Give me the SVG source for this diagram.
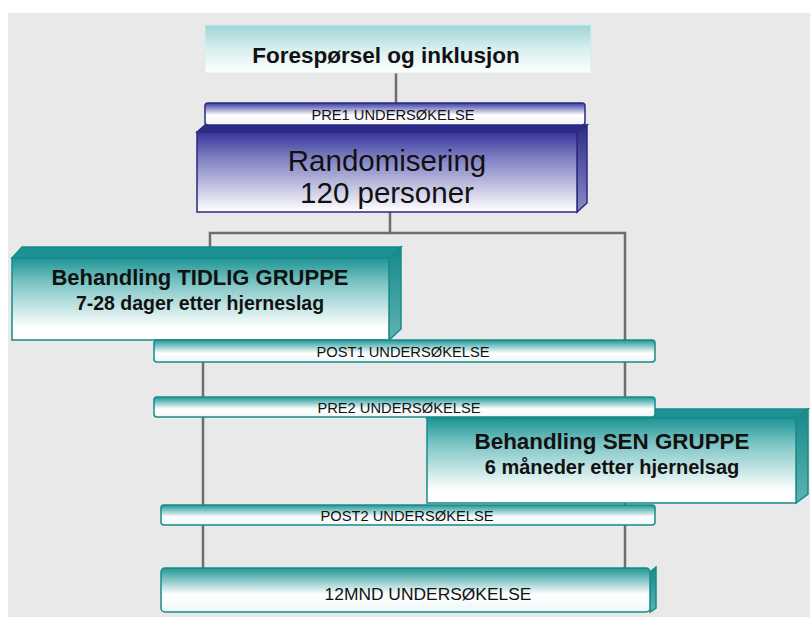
<svg xmlns="http://www.w3.org/2000/svg" width="810" height="617" viewBox="0 0 810 617">
<defs>
<linearGradient id="gCyan" x1="0" y1="0" x2="0" y2="1"><stop offset="0" stop-color="#9fd4d4"/><stop offset="0.5" stop-color="#d8efef"/><stop offset="1" stop-color="#ffffff"/></linearGradient>
<linearGradient id="gPurple" x1="0" y1="0" x2="0" y2="1"><stop offset="0" stop-color="#34349a"/><stop offset="0.3" stop-color="#7a7abf"/><stop offset="1" stop-color="#ffffff"/></linearGradient>
<linearGradient id="gPurpleBar" x1="0" y1="0" x2="0" y2="1"><stop offset="0" stop-color="#3a3aa0"/><stop offset="0.55" stop-color="#ffffff"/><stop offset="1" stop-color="#f2f2fa"/></linearGradient>
<linearGradient id="gPurpleSide" x1="0" y1="0" x2="0" y2="1"><stop offset="0" stop-color="#2c2c88"/><stop offset="1" stop-color="#8a8ac8"/></linearGradient>
<linearGradient id="gTeal" x1="0" y1="0" x2="0" y2="1"><stop offset="0" stop-color="#1d9494"/><stop offset="0.3" stop-color="#7cc4c4"/><stop offset="0.85" stop-color="#ffffff"/></linearGradient>
<linearGradient id="gTealBar" x1="0" y1="0" x2="0" y2="1"><stop offset="0" stop-color="#1f9696"/><stop offset="0.6" stop-color="#ffffff"/><stop offset="1" stop-color="#eef7f7"/></linearGradient>
<linearGradient id="gTealSide" x1="0" y1="0" x2="0" y2="1"><stop offset="0" stop-color="#178888"/><stop offset="1" stop-color="#5fb4b4"/></linearGradient>
</defs>
<style>
.t{font-family:"Liberation Sans",Arial,sans-serif;fill:#111111;text-anchor:middle}
.b{font-weight:bold}
.ln{stroke:#6e6e6e;stroke-width:2.5;fill:none}
.pb{stroke:#2a2a80;stroke-width:1.5}
.tb{stroke:#178a8a;stroke-width:1.5}
</style>
<rect x="0" y="0" width="810" height="617" fill="#ffffff"/>
<rect x="8" y="13" width="802" height="604" fill="#e9e9e9"/>

<g id="connectors">
<path class="ln" d="M396 73 V104"/>
<path class="ln" d="M390 212 V233 H625 V568"/>
<path class="ln" d="M390 233 H210 V248"/>
<path class="ln" d="M203 340 V568"/>
</g>

<g id="forespoersel">
<rect x="205" y="25" width="386" height="48" fill="url(#gCyan)" stroke="#d6eeee" stroke-width="1"/>
<text class="t b" x="386" y="63" font-size="22.5">Forespørsel og inklusjon</text>
</g>

<g id="randomisering">
<polygon points="197,132 205,125 587,125 577,132" fill="#2c2c88" class="pb"/>
<polygon points="577,132 587,125 587,203 577,212" fill="url(#gPurpleSide)" class="pb"/>
<rect x="197" y="132" width="380" height="80" fill="url(#gPurple)" class="pb"/>
<text class="t" x="387" y="171" font-size="29.5">Randomisering</text>
<text class="t" x="387" y="203" font-size="29.5">120 personer</text>
</g>

<g id="pre1">
<rect x="205" y="103" width="380" height="22" rx="3" fill="url(#gPurpleBar)" class="pb"/>
<text class="t" x="393" y="120" font-size="14.7">PRE1 UNDERSØKELSE</text>
</g>

<g id="tidlig">
<polygon points="12,258 22,247 401,247 389,258" fill="#1d9292" class="tb"/>
<polygon points="389,258 401,247 401,329 389,340" fill="url(#gTealSide)" class="tb"/>
<rect x="12" y="258" width="377" height="82" fill="url(#gTeal)" class="tb"/>
<text class="t b" x="200" y="285" font-size="22">Behandling TIDLIG GRUPPE</text>
<text class="t b" x="200" y="310" font-size="19.5">7-28 dager etter hjerneslag</text>
</g>

<g id="post1">
<rect x="154" y="340" width="501" height="22" rx="3" fill="url(#gTealBar)" class="tb"/>
<text class="t" x="403" y="357" font-size="14.7">POST1 UNDERSØKELSE</text>
</g>

<g id="sen">
<polygon points="427,418 437,409 808,409 796,418" fill="#1d9292" class="tb"/>
<polygon points="796,418 808,409 808,494 796,503" fill="url(#gTealSide)" class="tb"/>
<rect x="427" y="418" width="369" height="85" fill="url(#gTeal)" class="tb"/>
<text class="t b" x="612" y="449" font-size="22.4">Behandling SEN GRUPPE</text>
<text class="t b" x="612" y="474" font-size="20">6 måneder etter hjernelsag</text>
</g>

<g id="pre2">
<rect x="154" y="397" width="501" height="20" rx="3" fill="url(#gTealBar)" class="tb"/>
<text class="t" x="399" y="413" font-size="14.7">PRE2 UNDERSØKELSE</text>
</g>

<g id="post2">
<rect x="161" y="505" width="494" height="20" rx="3" fill="url(#gTealBar)" class="tb"/>
<text class="t" x="407" y="521" font-size="14.7">POST2 UNDERSØKELSE</text>
</g>

<g id="mnd12">
<polygon points="650,572 656,567 656,608 650,612" fill="url(#gTealSide)" class="tb"/>
<rect x="161" y="568" width="489" height="44" rx="4" fill="url(#gTealBar)" class="tb"/>
<text class="t" x="428" y="600" font-size="17.4">12MND UNDERSØKELSE</text>
</g>
</svg>
